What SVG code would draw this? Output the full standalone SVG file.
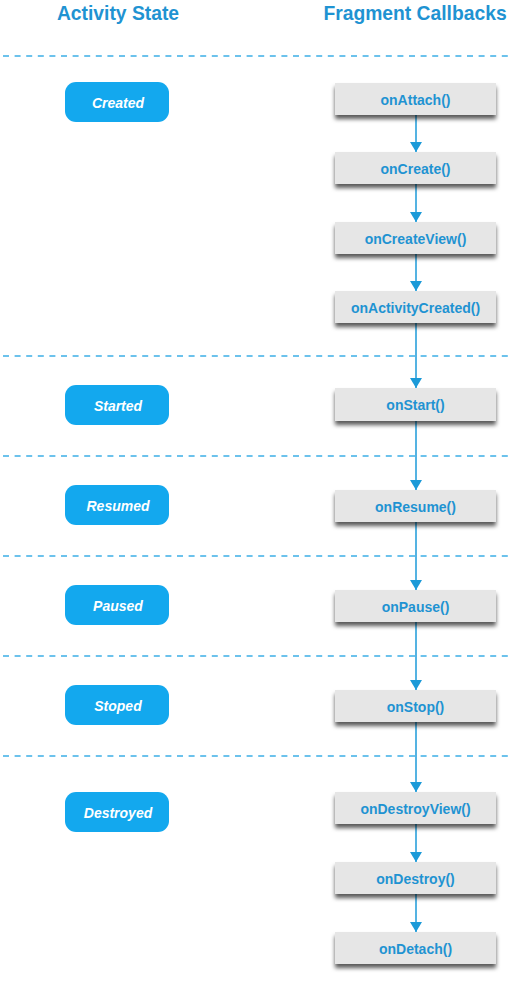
<svg xmlns="http://www.w3.org/2000/svg" width="511" height="983" viewBox="0 0 511 983">
<defs>
<filter id="sh" x="-10%" y="-20%" width="120%" height="170%">
<feDropShadow dx="0" dy="4" stdDeviation="2.3" flood-color="#000" flood-opacity="0.65"/>
</filter>
<marker id="ah" viewBox="0 0 10 12" refX="10" refY="6" markerWidth="10" markerHeight="12" markerUnits="userSpaceOnUse" orient="auto">
<path d="M0,0 L10,6 L0,12 Z" fill="#1c9ad8"/>
</marker>
</defs>
<style>
.title{font-family:"Liberation Sans",Arial,sans-serif;font-weight:bold;font-size:19.3px;fill:#1f93d2;text-anchor:middle}
.pill rect{fill:#13a8ee}
.pill text{font-family:"Liberation Sans",Arial,sans-serif;font-weight:bold;font-style:italic;font-size:14px;fill:#fff;text-anchor:middle}
.box rect{fill:#e6e6e6;filter:url(#sh)}
.box text{font-family:"Liberation Sans",Arial,sans-serif;font-weight:bold;font-size:14px;fill:#1f93d2;text-anchor:middle}
.dash{stroke:#3cafe6;stroke-width:1.5;stroke-dasharray:6 5.6}
.conn line{stroke:#1c9ad8;stroke-width:1.5;marker-end:url(#ah)}
</style>
<rect width="511" height="983" fill="#fff"/>
<text class="title" x="118" y="20">Activity State</text>
<text class="title" x="415" y="20">Fragment Callbacks</text>
<g id="separators">
<line class="dash" x1="3" y1="56" x2="511" y2="56"/>
<line class="dash" x1="3" y1="356" x2="511" y2="356"/>
<line class="dash" x1="3" y1="456" x2="511" y2="456"/>
<line class="dash" x1="3" y1="556" x2="511" y2="556"/>
<line class="dash" x1="3" y1="656" x2="511" y2="656"/>
<line class="dash" x1="3" y1="756" x2="511" y2="756"/>
</g>
<g id="connectors" class="conn">
<line x1="416" y1="115" x2="416" y2="152"/>
<line x1="416" y1="184" x2="416" y2="222"/>
<line x1="416" y1="254" x2="416" y2="291"/>
<line x1="416" y1="323" x2="416" y2="388"/>
<line x1="416" y1="421" x2="416" y2="490"/>
<line x1="416" y1="522" x2="416" y2="590"/>
<line x1="416" y1="622" x2="416" y2="690"/>
<line x1="416" y1="722" x2="416" y2="792"/>
<line x1="416" y1="824" x2="416" y2="862"/>
<line x1="416" y1="894" x2="416" y2="932"/>
</g>
<g id="state-created" class="pill"><rect x="65" y="82" width="104" height="40" rx="11"/><text x="118" y="107.5">Created</text></g>
<g id="state-started" class="pill"><rect x="65" y="385" width="104" height="40" rx="11"/><text x="118" y="410.5">Started</text></g>
<g id="state-resumed" class="pill"><rect x="65" y="485" width="104" height="40" rx="11"/><text x="118" y="510.5">Resumed</text></g>
<g id="state-paused" class="pill"><rect x="65" y="585" width="104" height="40" rx="11"/><text x="118" y="610.5">Paused</text></g>
<g id="state-stoped" class="pill"><rect x="65" y="685" width="104" height="40" rx="11"/><text x="118" y="710.5">Stoped</text></g>
<g id="state-destroyed" class="pill"><rect x="65" y="792" width="104" height="40" rx="11"/><text x="118" y="817.5">Destroyed</text></g>
<g id="cb-onAttach" class="box"><rect x="335" y="83" width="161" height="32"/><text x="415.5" y="104.5">onAttach()</text></g>
<g id="cb-onCreate" class="box"><rect x="335" y="152" width="161" height="32"/><text x="415.5" y="173.5">onCreate()</text></g>
<g id="cb-onCreateView" class="box"><rect x="335" y="222" width="161" height="32"/><text x="415.5" y="243.5">onCreateView()</text></g>
<g id="cb-onActivityCreated" class="box"><rect x="335" y="291" width="161" height="32"/><text x="415.5" y="312.5">onActivityCreated()</text></g>
<g id="cb-onStart" class="box"><rect x="335" y="388" width="161" height="33"/><text x="415.5" y="410">onStart()</text></g>
<g id="cb-onResume" class="box"><rect x="335" y="490" width="161" height="32"/><text x="415.5" y="511.5">onResume()</text></g>
<g id="cb-onPause" class="box"><rect x="335" y="590" width="161" height="32"/><text x="415.5" y="611.5">onPause()</text></g>
<g id="cb-onStop" class="box"><rect x="335" y="690" width="161" height="32"/><text x="415.5" y="711.5">onStop()</text></g>
<g id="cb-onDestroyView" class="box"><rect x="335" y="792" width="161" height="32"/><text x="415.5" y="813.5">onDestroyView()</text></g>
<g id="cb-onDestroy" class="box"><rect x="335" y="862" width="161" height="32"/><text x="415.5" y="883.5">onDestroy()</text></g>
<g id="cb-onDetach" class="box"><rect x="335" y="932" width="161" height="32"/><text x="415.5" y="953.5">onDetach()</text></g>
</svg>
